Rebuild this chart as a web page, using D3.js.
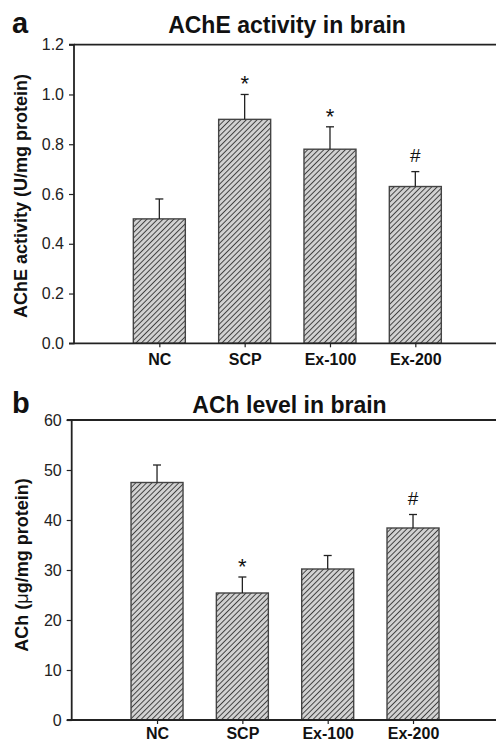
<!DOCTYPE html>
<html>
<head>
<meta charset="utf-8">
<script src="https://cdn.jsdelivr.net/npm/d3@7"></script>
<style>
  html, body { margin: 0; padding: 0; background: #fff; }
  svg { display: block; font-family: "Liberation Sans", Arial, Helvetica, sans-serif; }
</style>
</head>
<body>
<svg id="chart" width="496" height="741"></svg>
<script>
// ---- data ----
const categories = ["NC", "SCP", "Ex-100", "Ex-200"];

const acheMeans = [0.50, 0.90, 0.78, 0.63];
const acheErrors = [0.08, 0.10, 0.09, 0.06];
const acheMarks = ["", "*", "*", "#"];
const acheTicks = [0.0, 0.2, 0.4, 0.6, 0.8, 1.0, 1.2];

const achMeans = [47.5, 25.4, 30.2, 38.4];
const achErrors = [3.5, 3.2, 2.7, 2.7];
const achMarks = ["", "*", "", "#"];
const achTicks = [0, 10, 20, 30, 40, 50, 60];

// ---- drawing ----
const svg = d3.select("#chart");

const defs = svg.append("defs");
const pat = defs.append("pattern")
  .attr("id", "hatch")
  .attr("patternUnits", "userSpaceOnUse")
  .attr("width", 3.8)
  .attr("height", 3.8)
  .attr("patternTransform", "rotate(45)");
pat.append("rect").attr("width", 3.8).attr("height", 3.8).attr("fill", "#d2d2d2");
pat.append("line")
  .attr("x1", 0.5).attr("y1", 0).attr("x2", 0.5).attr("y2", 3.8)
  .attr("stroke", "#2a2a2a").attr("stroke-width", 0.85);

function drawPanel(cfg) {
  const g = svg.append("g");
  const y = d3.scaleLinear().domain(cfg.domain).range([cfg.bottom, cfg.top]);
  const x = d3.scalePoint().domain(categories)
    .range([cfg.axisX, cfg.axisX + 5 * 85.33]).padding(1);
  const barW = 52;

  // top frame line
  g.append("line")
    .attr("x1", cfg.axisX).attr("x2", 500)
    .attr("y1", cfg.top).attr("y2", cfg.top)
    .attr("stroke", "#222").attr("stroke-width", 1.8);

  // bars
  g.selectAll("rect.bar").data(cfg.means).enter().append("rect")
    .attr("class", "bar")
    .attr("x", (d, i) => x(categories[i]) - barW / 2)
    .attr("width", barW)
    .attr("y", d => y(d))
    .attr("height", d => y(0) - y(d))
    .attr("fill", "url(#hatch)")
    .attr("stroke", "#444")
    .attr("stroke-width", 1.4);

  // error bars (upper only)
  const eg = g.selectAll("g.err").data(cfg.means).enter().append("g").attr("class", "err");
  eg.append("line")
    .attr("x1", (d, i) => x(categories[i])).attr("x2", (d, i) => x(categories[i]))
    .attr("y1", d => y(d)).attr("y2", (d, i) => y(d + cfg.errors[i]))
    .attr("stroke", "#222").attr("stroke-width", 1.3);
  eg.append("line")
    .attr("x1", (d, i) => x(categories[i]) - 4).attr("x2", (d, i) => x(categories[i]) + 4)
    .attr("y1", (d, i) => y(d + cfg.errors[i])).attr("y2", (d, i) => y(d + cfg.errors[i]))
    .attr("stroke", "#222").attr("stroke-width", 1.3);

  // significance marks
  g.selectAll("text.mark").data(cfg.marks).enter().append("text")
    .attr("class", "mark")
    .attr("x", (d, i) => x(categories[i]))
    .attr("y", (d, i) => y(cfg.means[i] + cfg.errors[i]) - (d === "#" ? 10 : 3))
    .attr("text-anchor", "middle")
    .attr("font-size", d => d === "#" ? 19 : 22)
    .attr("fill", "#111")
    .text(d => d);

  // y axis
  const yAxis = d3.axisLeft(y).tickValues(cfg.ticks).tickSize(5).tickPadding(5)
    .tickFormat(cfg.fmt);
  const ya = g.append("g").attr("transform", `translate(${cfg.axisX},0)`).call(yAxis);
  ya.select(".domain").attr("stroke", "#222").attr("stroke-width", 1.8)
    .attr("d", `M-5,${cfg.top}H0V${cfg.bottom}H-5`);
  ya.selectAll(".tick line").attr("stroke", "#222").attr("stroke-width", 1.2);
  ya.selectAll(".tick text").attr("font-size", 16).attr("fill", "#222")
    .attr("font-family", "'Liberation Sans', Arial, sans-serif");

  // x axis
  const xAxis = d3.axisBottom(x).tickSize(4).tickPadding(cfg.xPad);
  const xa = g.append("g").attr("transform", `translate(0,${cfg.bottom})`).call(xAxis);
  xa.select(".domain").attr("stroke", "#222").attr("stroke-width", 1.8)
    .attr("d", `M${cfg.axisX},0H500`);
  xa.selectAll(".tick line").attr("stroke", "#222").attr("stroke-width", 1.2);
  xa.selectAll(".tick text").attr("font-size", 16).attr("font-weight", "bold")
    .attr("fill", "#111").attr("dy", "0.72em")
    .attr("font-family", "'Liberation Sans', Arial, sans-serif");

  // title
  g.append("text")
    .attr("x", cfg.titleX).attr("y", cfg.titleY)
    .attr("text-anchor", "middle")
    .attr("font-size", 23).attr("font-weight", "bold").attr("fill", "#111")
    .text(cfg.title);

  // panel letter
  g.append("text")
    .attr("x", 12).attr("y", cfg.titleY)
    .attr("font-size", 29).attr("font-weight", "bold").attr("fill", "#111")
    .text(cfg.letter);

  // y label
  const yl = g.append("text")
    .attr("transform", `translate(${cfg.ylabelX},${cfg.ylabelY}) rotate(-90)`)
    .attr("text-anchor", "middle")
    .attr("font-size", 18).attr("font-weight", "bold").attr("fill", "#111");
  cfg.ylabel(yl);
}

drawPanel({
  top: 44.7, bottom: 343.3, axisX: 74, xPad: 6,
  domain: [0, 1.2], ticks: acheTicks, fmt: d3.format(".1f"),
  means: acheMeans, errors: acheErrors, marks: acheMarks,
  title: "AChE activity in brain", titleX: 287, titleY: 32.5, letter: "a",
  ylabelX: 26.5, ylabelY: 196,
  ylabel: t => t.text("AChE activity (U/mg protein)")
});

drawPanel({
  top: 420, bottom: 720, axisX: 71.7, xPad: 3.5,
  domain: [0, 60], ticks: achTicks, fmt: d3.format("d"),
  means: achMeans, errors: achErrors, marks: achMarks,
  title: "ACh level in brain", titleX: 289.5, titleY: 413, letter: "b",
  ylabelX: 27.5, ylabelY: 565,
  ylabel: t => {
    t.append("tspan").text("ACh (");
    t.append("tspan").attr("font-weight", "normal").text("\u03bc");
    t.append("tspan").text("g/mg protein)");
  }
});
</script>
</body>
</html>
